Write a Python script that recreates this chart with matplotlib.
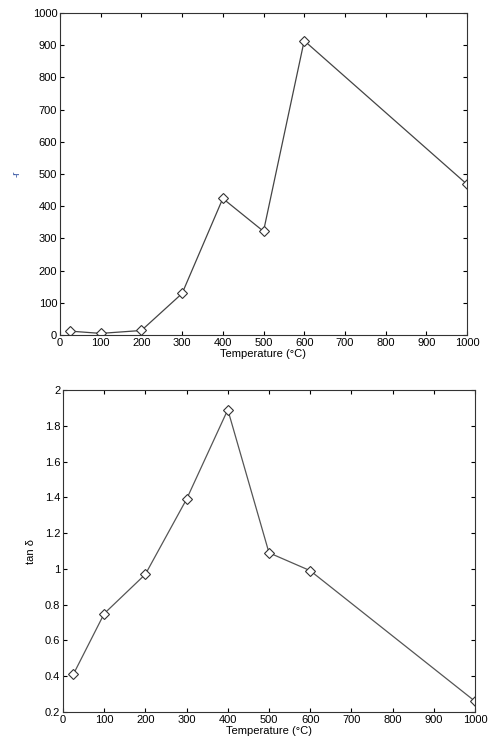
import matplotlib
matplotlib.use("Agg")
import matplotlib.pyplot as plt

plt.rcParams['font.family'] = ['Liberation Sans', 'DejaVu Sans']

# data
temp = [25, 100, 200, 300, 400, 500, 600, 1000]
eps_r = [12, 5, 14, 129, 424, 322, 914, 468]
tan_d = [0.41, 0.75, 0.97, 1.39, 1.89, 1.09, 0.99, 0.26]

fig = plt.figure(figsize=(4.89, 7.49), dpi=100)
ax1 = fig.add_axes([60 / 489, 1 - 335 / 749, 407 / 489, 322 / 749])
ax2 = fig.add_axes([63 / 489, 1 - 712 / 749, 412 / 489, 322 / 749])


def style(ax):
    ax.tick_params(direction='in', length=3, labelsize=8, top=True, right=True,
                   labeltop=False, labelright=False, pad=2)
    ax.set_xlim(0, 1000)
    ax.set_xticks(range(0, 1001, 100))
    for s in ax.spines.values():
        s.set_linewidth(0.8)
        s.set_color('#333333')
    ax.set_xlabel('Temperature (\u00b0C)', fontsize=8, labelpad=1)


ax1.plot(temp, eps_r, color='#444444', lw=0.9, marker='D', ms=5,
         mfc='white', mec='#333333', mew=0.8)
style(ax1)
ax1.set_ylim(0, 1000)
ax1.set_yticks(range(0, 1001, 100))
ax1.set_ylabel('-r', fontsize=7, color='#3050a0', labelpad=8)

ax2.plot(temp, tan_d, color='#555555', lw=0.9, marker='D', ms=5,
         mfc='white', mec='#333333', mew=0.8)
style(ax2)
ax2.set_ylim(0.2, 2)
ax2.set_yticks([0.2, 0.4, 0.6, 0.8, 1, 1.2, 1.4, 1.6, 1.8, 2])
ax2.set_yticklabels(['0.2', '0.4', '0.6', '0.8', '1', '1.2', '1.4', '1.6', '1.8', '2'])
ax2.set_ylabel('tan \u03b4', fontsize=8, labelpad=6)

fig.savefig('out.png', dpi=100)
